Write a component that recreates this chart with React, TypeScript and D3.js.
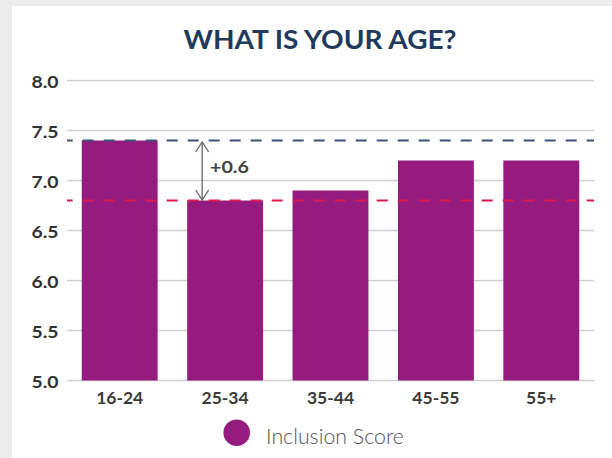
import React from "react";
import * as d3 from "d3";

const categories = ["16-24", "25-34", "35-44", "45-55", "55+"];
const scores = [7.4, 6.8, 6.9, 7.2, 7.2];
const yTicks = [5.0, 5.5, 6.0, 6.5, 7.0, 7.5, 8.0];
const refHigh = 7.4;
const refLow = 6.8;
const diffLabel = "+0.6";
const title = "WHAT IS YOUR AGE?";
const legendLabel = "Inclusion Score";

const W = 612;
const H = 458;
const BAR = "#951b7e";

export default function App() {
  const x = d3.scaleBand<string>().domain(categories).range([67, 594]).paddingInner(0.28).paddingOuter(0.14);
  const y = d3.scaleLinear().domain([5, 8]).range([380.5, 80.5]);
  const xl = 67, xr = 594;
  const ax = x(categories[1])! + 15;
  const yTop = y(refHigh) + 1.5;
  const yBot = y(refLow) - 0.5;

  return (
    <svg width={W} height={H} style={{ position: "absolute", left: 0, top: 0 }} fontFamily="Lato, 'Open Sans', sans-serif">
      <rect x={0} y={0} width={W} height={H} fill="#ececec" />
      <rect x={12} y={6} width={W - 12} height={H - 6} fill="#ffffff" />
      <text x={320} y={48.5} textAnchor="middle" fontSize={26} fontWeight={700} fill="#1f3a5c" textLength={273} lengthAdjust="spacingAndGlyphs">{title}</text>
      {yTicks.map((t) => (
        <g key={t}>
          <line x1={xl} x2={xr} y1={y(t)} y2={y(t)} stroke="#cfcfcf" strokeWidth={1.5} />
          <text x={58.5} y={y(t) + 7.8} textAnchor="end" fontSize={17} fontWeight={700} fill="#333" textLength={27} lengthAdjust="spacingAndGlyphs">{t.toFixed(1)}</text>
        </g>
      ))}
      {categories.map((c, i) => (
        <rect key={c} x={x(c)} y={y(scores[i])} width={x.bandwidth()} height={y(5) - y(scores[i])} fill={BAR} />
      ))}
      {categories.map((c) => (
        <text key={c} x={x(c)! + x.bandwidth() / 2} y={404.3} textAnchor="middle" fontSize={17.5} fontWeight={700} fill="#3a3a3a">{c}</text>
      ))}
      <line x1={xl} x2={xr} y1={y(refHigh)} y2={y(refHigh)} stroke="#3b5378" strokeWidth={2} strokeDasharray="11 10" strokeDashoffset={5.3} />
      <line x1={xl} x2={xr} y1={y(refLow)} y2={y(refLow)} stroke="#dc1a50" strokeWidth={1.8} strokeDasharray="11 10" strokeDashoffset={5.3} />
      <g stroke="#666" strokeWidth={1.3} fill="none">
        <line x1={ax} x2={ax} y1={yTop} y2={yBot} />
        <polyline points={`${ax - 6.5},${yTop + 10} ${ax},${yTop} ${ax + 6.5},${yTop + 10}`} />
        <polyline points={`${ax - 6.5},${yBot - 10} ${ax},${yBot} ${ax + 6.5},${yBot - 10}`} />
      </g>
      <text x={210} y={172.7} fontSize={17} fontWeight={700} fill="#444" textLength={39} lengthAdjust="spacingAndGlyphs">{diffLabel}</text>
      <circle cx={236.7} cy={432.7} r={13.3} fill={BAR} />
      <text x={266} y={444.3} fontSize={22} fontWeight={300} fill="#555" textLength={138} lengthAdjust="spacingAndGlyphs">{legendLabel}</text>
    </svg>
  );
}
